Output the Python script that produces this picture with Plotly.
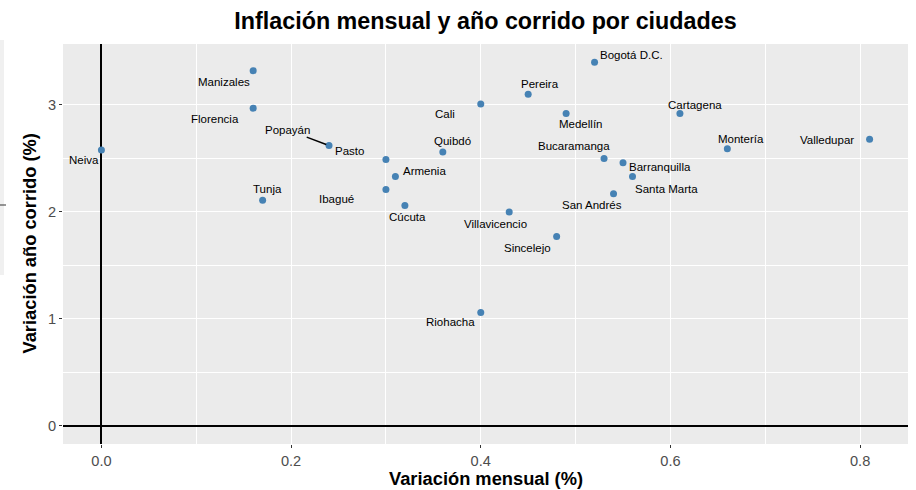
import plotly.graph_objects as go

# Data
cities = ["Neiva", "Manizales", "Florencia", "Popayán", "Pasto", "Tunja", "Ibagué",
          "Armenia", "Cúcuta", "Cali", "Quibdó", "Pereira", "Bogotá D.C.", "Medellín",
          "Bucaramanga", "Barranquilla", "Santa Marta", "San Andrés", "Cartagena",
          "Montería", "Valledupar", "Villavicencio", "Sincelejo", "Riohacha"]
var_mensual = [0.00, 0.16, 0.16, 0.24, 0.30, 0.17, 0.30,
               0.31, 0.32, 0.40, 0.36, 0.45, 0.52, 0.49,
               0.53, 0.55, 0.56, 0.54, 0.61,
               0.66, 0.81, 0.43, 0.48, 0.40]
var_anio = [2.58, 3.32, 2.97, 2.62, 2.49, 2.11, 2.21,
            2.33, 2.06, 3.01, 2.56, 3.10, 3.40, 2.92,
            2.50, 2.46, 2.33, 2.17, 2.92,
            2.59, 2.68, 2.00, 1.77, 1.06]
x_ticks = [0, 0.2, 0.4, 0.6, 0.8]
x_tick_labels = ["0.0", "0.2", "0.4", "0.6", "0.8"]
y_ticks = [0, 1, 2, 3]

# label offsets in pixels (dx right, dy down) relative to point
label_offsets = {
    "Neiva": (-17, 10), "Manizales": (-29, 11), "Florencia": (-38, 11),
    "Popayán": (-42, -16), "Pasto": (-36, -9), "Tunja": (5, -11),
    "Ibagué": (-49, 10), "Armenia": (29, -6), "Cúcuta": (3, 11),
    "Cali": (-36, 10), "Quibdó": (10, -11), "Pereira": (12, -10),
    "Bogotá D.C.": (37, -7), "Medellín": (14, 10), "Bucaramanga": (-30, -12),
    "Barranquilla": (37, 4), "Santa Marta": (34, 12), "San Andrés": (-22, 11),
    "Cartagena": (15, -9), "Montería": (14, -10), "Valledupar": (-43, 1),
    "Villavicencio": (-14, 12), "Sincelejo": (-29, 11), "Riohacha": (-30, 10),
}
segment_labels = {"Popayán"}

FONT = "Liberation Sans, Arial, Helvetica, sans-serif"
L, R, T, B = 63, 8, 44, 46
W, H = 916, 490
PW, PH = W - L - R, H - T - B

fig = go.Figure()
fig.add_trace(go.Scatter(
    x=var_mensual, y=var_anio, mode="markers",
    marker=dict(color="#4682B4", size=7),
    hoverinfo="text", text=cities, showlegend=False,
))

annotations = []
for c, xv, yv in zip(cities, var_mensual, var_anio):
    dx, dy = label_offsets[c]
    if c in segment_labels:
        annotations.append(dict(
            x=xv, y=yv, xref="x", yref="y", text=c, showarrow=True,
            ax=dx, ay=dy, arrowhead=0, arrowwidth=1.5, arrowcolor="black",
            standoff=3, font=dict(family=FONT, size=11.5, color="black"),
        ))
    else:
        annotations.append(dict(
            x=xv, y=yv, xref="x", yref="y", text=c, showarrow=False,
            xshift=dx, yshift=-dy, xanchor="center", yanchor="middle",
            font=dict(family=FONT, size=11.5, color="black"),
        ))

# axis titles
annotations.append(dict(
    x=0.5, y=0, xref="paper", yref="paper", yshift=-34, showarrow=False,
    text="<b>Variación mensual (%)</b>", xanchor="center", yanchor="middle",
    font=dict(family=FONT, size=18.3, color="black")))
annotations.append(dict(
    x=0, y=0.5, xref="paper", yref="paper", xshift=-34.5, showarrow=False,
    text="<b>Variación año corrido (%)</b>", textangle=-90,
    xanchor="center", yanchor="middle",
    font=dict(family=FONT, size=18.3, color="black")))

# faint strip artifact at left edge
shapes = [
    dict(type="rect", xref="paper", yref="paper",
         x0=(0 - L) / PW, x1=(4 - L) / PW, y0=(H - B - 275) / PH, y1=(H - B - 40) / PH,
         fillcolor="#F0F0F0", line=dict(width=0), layer="below"),
    dict(type="line", xref="paper", yref="paper",
         x0=(0 - L) / PW, x1=(6 - L) / PW, y0=(H - B - 205) / PH, y1=(H - B - 205) / PH,
         line=dict(color="#333333", width=1)),
]

fig.update_layout(
    width=W, height=H,
    paper_bgcolor="white", plot_bgcolor="#EBEBEB",
    margin=dict(l=L, r=R, t=T, b=B, autoexpand=False),
    title=dict(text="<b>Inflación mensual y año corrido por ciudades</b>",
               x=(L + W - R) / 2 / W, xanchor="center", y=1 - 21 / H, yanchor="middle",
               font=dict(family=FONT, size=23.3, color="black")),
    annotations=annotations,
    shapes=shapes,
    font=dict(family=FONT),
)
fig.update_xaxes(
    range=[-0.0405, 0.8505], tickvals=x_ticks, ticktext=x_tick_labels,
    showgrid=True, gridcolor="white", gridwidth=1.1,
    minor=dict(tickvals=[0.1, 0.3, 0.5, 0.7], showgrid=True, gridcolor="white", gridwidth=0.5, ticks=""),
    zeroline=True, zerolinecolor="black", zerolinewidth=1.5,
    ticks="outside", ticklen=3, tickcolor="#333333", tickwidth=1,
    tickfont=dict(family=FONT, size=14.6, color="#4D4D4D"),
    automargin=False, showline=False,
)
fig.update_yaxes(
    range=[-0.17, 3.57], tickvals=y_ticks,
    showgrid=True, gridcolor="white", gridwidth=1.1,
    minor=dict(tickvals=[0.5, 1.5, 2.5], showgrid=True, gridcolor="white", gridwidth=0.5, ticks=""),
    zeroline=True, zerolinecolor="black", zerolinewidth=1.5,
    ticks="outside", ticklen=3, tickcolor="#333333", tickwidth=1,
    tickfont=dict(family=FONT, size=14.6, color="#4D4D4D"),
    automargin=False, showline=False,
)

fig.write_html("out.html", config={"displayModeBar": False},
               post_script="document.body.style.margin='0';document.body.style.overflow='hidden';")
